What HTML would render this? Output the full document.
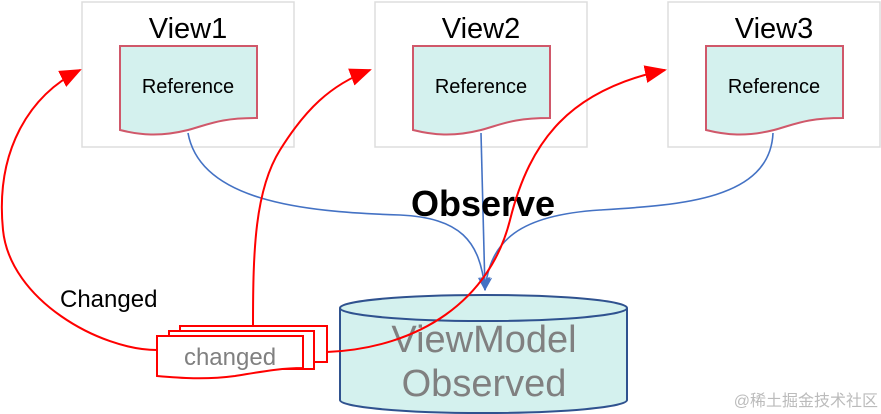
<!DOCTYPE html>
<html><head><meta charset="utf-8"><style>
html,body{margin:0;padding:0;background:#fff;width:881px;height:414px;overflow:hidden}
svg text{font-family:"Liberation Sans","Noto Sans CJK SC",sans-serif}
</style></head><body>
<svg width="881" height="414" viewBox="0 0 881 414" xmlns="http://www.w3.org/2000/svg">
<defs>
<marker id="ra" markerWidth="22" markerHeight="18" refX="20" refY="9" orient="auto" markerUnits="userSpaceOnUse" viewBox="0 0 22 18"><path d="M0,0 L22,9 L0,18 z" fill="#f00"/></marker>
<marker id="ba" markerWidth="14" markerHeight="12" refX="13" refY="6" orient="auto" markerUnits="userSpaceOnUse" viewBox="0 0 14 12"><path d="M0,0 L14,6 L0,12 L4,6 z" fill="#4472c4"/></marker>
</defs>
<g fill="#fff" stroke="#ddd" stroke-width="1.5">
<rect x="82" y="2" width="212" height="145"/>
<rect x="375" y="2" width="212" height="145"/>
<rect x="668" y="2" width="212" height="145"/>
</g>
<g font-size="29" text-anchor="middle" fill="#000">
<text x="188" y="38">View1</text>
<text x="481" y="38">View2</text>
<text x="774" y="38">View3</text>
</g>
<g fill="#d4f1ee" stroke="#d0586a" stroke-width="2">
<path d="M120,46 H257 V118 C220,118 210,124 188,130 C160,137 140,135 120,130 Z"/>
<path d="M413,46 H550 V118 C513,118 503,124 481,130 C453,137 433,135 413,130 Z"/>
<path d="M706,46 H843 V118 C806,118 796,124 774,130 C746,137 726,135 706,130 Z"/>
</g>
<g font-size="20" text-anchor="middle" fill="#000">
<text x="188" y="93">Reference</text>
<text x="481" y="93">Reference</text>
<text x="774" y="93">Reference</text>
</g>
<g fill="none" stroke="#4472c4" stroke-width="1.6">
<path d="M188,133 C200,200 300,212 400,215 C460,218 480,240 485,290" marker-end="url(#ba)"/>
<path d="M481,133 L485,290" marker-end="url(#ba)"/>
<path d="M773,133 C770,200 680,205 600,210 C520,215 490,240 485,290" marker-end="url(#ba)"/>
</g>
<text x="483" y="216" font-size="36" font-weight="bold" text-anchor="middle">Observe</text>
<path d="M340,308 V400 A143.5,13 0 0 0 627,400 V308" fill="#d4f1ee" stroke="#2f528f" stroke-width="2"/>
<ellipse cx="483.5" cy="308" rx="143.5" ry="13" fill="#d4f1ee" stroke="#2f528f" stroke-width="2"/>
<g font-size="38" text-anchor="middle" fill="#808080">
<text x="484" y="352">ViewModel</text>
<text x="484" y="396">Observed</text>
</g>
<g fill="#fff" stroke="#f00" stroke-width="2">
<rect x="180" y="326" width="147" height="36"/>
<rect x="169" y="331" width="145" height="38"/>
<path d="M157,336 H303 V368 C280,368 260,372 235,376 C205,380 180,378 157,376 Z"/>
</g>
<text x="230" y="365" font-size="24" text-anchor="middle" fill="#808080">changed</text>
<g fill="none" stroke="#f00" stroke-width="2">
<path d="M157,350 C100,350 10,300 3,230 C-5,150 30,95 80,70" marker-end="url(#ra)"/>
<path d="M253,325 C253,250 255,190 280,150 C305,110 330,85 370,70" marker-end="url(#ra)"/>
<path d="M327,352 C420,348 490,300 510,220 C530,140 570,90 665,70" marker-end="url(#ra)"/>
</g>
<text x="60" y="307" font-size="24" fill="#000">Changed</text>
<text x="878" y="406" font-size="16" text-anchor="end" fill="#bbb">@稀土掘金技术社区</text>
</svg>
</body></html>
